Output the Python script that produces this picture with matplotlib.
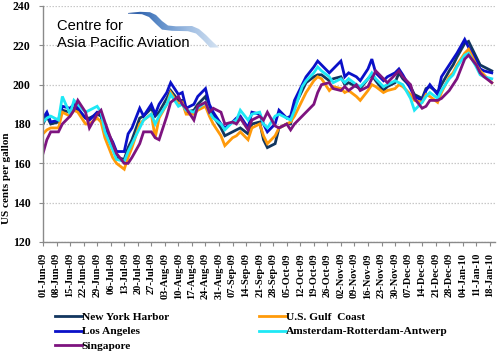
import numpy as np
import pandas as pd
import matplotlib
matplotlib.use("Agg")
import matplotlib.pyplot as plt
import matplotlib.dates as mdates
from matplotlib.path import Path
from matplotlib.patches import PathPatch
from matplotlib.colors import LinearSegmentedColormap

# ---------------------------------------------------------------------------
# Data (US cents per gallon, every other business day)
# ---------------------------------------------------------------------------
dates = pd.bdate_range("2009-06-01", "2010-01-19")[::2]

new_york = [180, 184, 180, 181, 187, 186, 188, 187, 183, 183,
            185, 184, 176, 168, 163, 162, 168, 172, 183, 184,
            188, 184, 186, 193, 197, 192, 192, 186, 187, 190,
            194, 188, 184, 178, 174, 176, 177, 178, 175, 180,
            181, 172, 168, 170, 178, 180, 180, 189, 197, 201,
            204, 205, 205, 202, 203, 204, 200, 201, 199, 198,
            203, 205, 202, 197, 199, 201, 206, 203, 199, 195,
            193, 198, 199, 196, 200, 207, 210, 214, 221, 222,
            214, 210, 209, 207]
los_angeles = [183, 186, 181, 182, 189, 188, 190, 188, 183, 182,
               186, 185, 178, 171, 166, 166, 175, 178, 188, 184,
               190, 185, 190, 196, 201, 195, 196, 188, 190, 194,
               198, 190, 186, 180, 178, 181, 183, 184, 178, 186,
               185, 180, 176, 180, 187, 183, 184, 192, 200, 204,
               209, 212, 210, 206, 208, 212, 204, 206, 204, 202,
               208, 213, 206, 202, 204, 206, 208, 205, 198, 194,
               192, 197, 200, 195, 204, 210, 213, 216, 223, 219,
               212, 208, 207, 206]
gulf_coast = [175, 177, 178, 178, 186, 184, 187, 186, 180, 180,
              183, 181, 173, 163, 160, 157, 163, 168, 180, 182,
              185, 173, 183, 190, 196, 190, 191, 185, 185, 187,
              189, 184, 180, 174, 169, 173, 174, 176, 172, 178,
              180, 174, 170, 174, 178, 180, 181, 184, 192, 196,
              202, 204, 203, 197, 199, 198, 196, 197, 194, 192,
              197, 200, 199, 196, 197, 198, 200, 199, 195, 192,
              191, 195, 194, 191, 196, 204, 206, 210, 216, 218,
              210, 207, 205, 201]
ara = [181, 183, 184, 182, 194, 185, 192, 190, 186, 187,
       189, 186, 176, 167, 162, 161, 166, 170, 178, 182,
       185, 180, 184, 190, 195, 189, 190, 187, 186, 188,
       191, 186, 183, 180, 177, 181, 182, 187, 182, 185,
       186, 180, 178, 184, 185, 183, 182, 187, 199, 202,
       206, 209, 207, 204, 201, 203, 201, 203, 200, 199,
       203, 206, 203, 199, 200, 202, 201, 200, 193, 187,
       191, 194, 196, 193, 197, 203, 205, 209, 215, 216,
       209, 205, 204, 203]
singapore = [165, 172, 176, 176, 180, 184, 187, 192, 186, 178,
             185, 187, 181, 170, 165, 160, 160, 163, 170, 176,
             176, 173, 172, 184, 191, 194, 190, 188, 182, 189,
             191, 186, 188, 186, 180, 181, 180, 183, 177, 182,
             184, 182, 186, 179, 178, 180, 177, 180, 184, 186,
             190, 196, 200, 201, 198, 197, 199, 197, 200, 197,
             199, 203, 207, 203, 201, 205, 207, 204, 200, 193,
             188, 189, 192, 192, 193, 197, 200, 203, 213, 215,
             210, 206, 204, 201]

series_names = ["New York Harbor", "Los Angeles", "Singapore",
                "U.S. Gulf  Coast", "Amsterdam-Rotterdam-Antwerp"]
series_values = [new_york, los_angeles, singapore, gulf_coast, ara]
series_colors = ["#12365f", "#0a10c8", "#7d137f", "#ff9a0a", "#1ee8f5"]
draw_order = [0, 1, 3, 4, 2]

serif = "Liberation Serif"

# ---------------------------------------------------------------------------
# Figure
# ---------------------------------------------------------------------------
fig = plt.figure(figsize=(5.0, 3.52), dpi=100)
ax = fig.add_axes([0.086, 0.3125, 0.904, 0.6705])

lines = {}
for i in draw_order:
    ln, = ax.plot(dates, series_values[i], color=series_colors[i], lw=2.0,
                  solid_joinstyle="miter", label=series_names[i])
    lines[i] = ln

ax.set_ylim(120, 240)
ax.set_yticks(range(120, 241, 20))
ax.set_xlim(pd.Timestamp("2009-06-01"), pd.Timestamp("2010-01-20 16:00"))
ax.xaxis.set_major_locator(mdates.WeekdayLocator(byweekday=mdates.MO))
ax.xaxis.set_major_formatter(mdates.DateFormatter("%d-%b-%y"))

ax.grid(axis="y", color="#c8c8c8", linestyle=(0, (1.2, 1.2)), lw=0.9)
ax.set_axisbelow(True)
for side in ["top", "right"]:
    ax.spines[side].set_visible(False)
for side in ["left", "bottom"]:
    ax.spines[side].set_color("#8a8a8a")
    ax.spines[side].set_linewidth(1.0)

ax.tick_params(axis="x", direction="out", length=3, width=0.8, color="#8a8a8a", pad=5)
ax.tick_params(axis="y", direction="out", length=3, width=0.8, color="#8a8a8a", pad=6)
for lab in ax.get_xticklabels():
    lab.set_rotation(90)
    lab.set_fontfamily(serif)
    lab.set_fontweight("bold")
    lab.set_fontsize(7.5)
for lab in ax.get_yticklabels():
    lab.set_fontfamily(serif)
    lab.set_fontweight("bold")
    lab.set_fontsize(8.5)

ax.set_ylabel("US cents per gallon", family=serif, weight="bold", fontsize=8)
ax.yaxis.set_label_coords(-0.07, 0.27)

# legend below the axis, two columns
handles = [lines[i] for i in range(5)]
fig.legend(handles, series_names, loc="upper left",
           bbox_to_anchor=(0.109, 0.113), ncol=2, frameon=False,
           prop={"family": serif, "weight": "bold", "size": 8.2},
           handlelength=2.4, handletextpad=0.0, columnspacing=7.9,
           labelspacing=0.38, borderaxespad=0, borderpad=0)

# ---------------------------------------------------------------------------
# Logo (text + swoosh) drawn in pixel coordinates on an overlay
# ---------------------------------------------------------------------------
ov = fig.add_axes([0, 0, 1, 1])
ov.axis("off")
ov.patch.set_alpha(0)

ov.text(57, 30, "Centre for", family="Liberation Sans", fontsize=10.6,
        color="black", va="baseline", ha="left")
ov.text(57, 47, "Asia Pacific Aviation", family="Liberation Sans", fontsize=10.6,
        color="black", va="baseline", ha="left")

top_edge = [(128, 13.0), (140, 11.8), (150, 12.2), (156, 15), (162, 21),
            (168, 25.5), (176, 26.3), (192, 26.0), (199, 29), (206, 35),
            (213, 42), (219, 47.5)]
bottom_edge = [(210, 47.5), (203, 40), (196, 33.5), (188, 31.2), (172, 30.8),
               (162, 29.6), (156, 24), (149, 17), (142, 14.2), (128, 13.6)]
verts = top_edge + bottom_edge + [top_edge[0]]
codes = [Path.MOVETO] + [Path.LINETO] * (len(verts) - 2) + [Path.CLOSEPOLY]
swoosh = PathPatch(Path(verts, codes), facecolor="none", edgecolor="none")
ov.add_patch(swoosh)
cmap = LinearSegmentedColormap.from_list(
    "sw", ["#1d4f9f", "#5b8bc8", "#9fbde2", "#d5e3f2"])
grad = np.linspace(0, 1, 256).reshape(1, -1)
img = ov.imshow(grad, cmap=cmap, extent=(128, 219, 48, 11), aspect="auto",
                interpolation="bilinear")
img.set_clip_path(swoosh)
ov.set_xlim(0, 500)
ov.set_ylim(352, 0)

fig.savefig("out.png", dpi=100)
